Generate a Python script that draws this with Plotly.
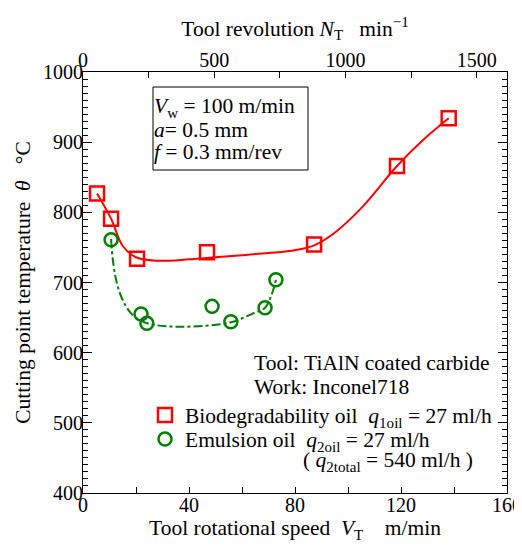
import plotly.graph_objects as go

# ---- data ----
bio_v = [5.3, 10.6, 20.4, 46.8, 87.2, 118.5, 138.0]
bio_t = [827, 791, 734, 743, 754, 866, 934]
emu_v = [10.6, 21.9, 24.1, 48.7, 55.8, 68.7, 72.8]
emu_t = [761, 655, 642, 666, 644, 664, 704]
bio_fit_v = [5.3, 10.6, 15, 20, 28, 40, 50, 60, 70, 80, 87.2, 95, 105, 118.5, 128, 138.0]
bio_fit_t = [827, 791, 752, 736, 731, 733, 736, 739, 742, 746, 753, 771, 806, 866, 902, 934]
emu_fit_v = [10.6, 11.3, 12.8, 15.1, 18.9, 24.2, 36.6, 55.5, 64.2, 68.7, 71.3, 72.8]
emu_fit_t = [762, 731, 699, 674, 653, 642, 637, 643, 656, 664, 684, 704]

x_ticks = [0, 40, 80, 120, 160]
y_ticks = [400, 500, 600, 700, 800, 900, 1000]
top_ticks = [0, 500, 1000, 1500]

FONT = "Liberation Serif"
RED = "#ff0000"
GREEN = "#008000"
TXT = 21.5
TICK = 20

# page has an 8px body margin; figure is drawn at offset (8, 8)
OFF = 8
W, H = 522 - OFF, 551 - 2 * OFF
# plot area in page pixels
L, R, T, B = 83, 507, 72, 493
def px(x): return (x - L) / (R - L)
def py(y): return (B - y) / (B - T)

fig = go.Figure()
fig.add_trace(go.Scatter(x=bio_fit_v, y=bio_fit_t, mode="lines", line=dict(color=RED, width=2, shape="spline"),
                         showlegend=False, hoverinfo="skip"))
fig.add_trace(go.Scatter(x=emu_fit_v, y=emu_fit_t, mode="lines",
                         line=dict(color=GREEN, width=2, shape="spline", dash="dashdot"),
                         showlegend=False, hoverinfo="skip"))
fig.add_trace(go.Scatter(x=bio_v, y=bio_t, mode="markers",
                         marker=dict(symbol="square-open", size=14, color=RED, line=dict(width=2.5, color=RED)),
                         name="Biodegradability oil\u00a0\u00a0<i>q</i><sub>1oil</sub> = 27 ml/h", legend="legend"))
fig.add_trace(go.Scatter(x=emu_v, y=emu_t, mode="markers",
                         marker=dict(symbol="circle-open", size=13, color=GREEN, line=dict(width=2.5, color=GREEN)),
                         name="Emulsion oil\u00a0\u00a0<i>q</i><sub>2oil</sub> = 27 ml/h", legend="legend2"))
fig.add_trace(go.Scatter(x=[], y=[], xaxis="x2", showlegend=False))

axis_common = dict(showline=True, linecolor="black", linewidth=1, ticks="inside", tickcolor="black",
                   showgrid=False, zeroline=False, automargin=False, ticklabeloverflow="allow",
                   tickfont=dict(family=FONT, size=TICK, color="black"))

leg_common = dict(xanchor="left", yanchor="middle", bgcolor="rgba(0,0,0,0)",
                  font=dict(family=FONT, size=TXT, color="black"), itemwidth=30)

fig.update_layout(
    width=W, height=H,
    margin=dict(l=L - OFF, r=OFF + W - R, t=T - OFF, b=OFF + H - B),
    paper_bgcolor="white", plot_bgcolor="white",
    font=dict(family=FONT, size=TXT, color="black"),
    xaxis=dict(range=[0, 160], tickvals=x_ticks, ticklen=6, ticklabelstandoff=-6,
               minor=dict(dtick=20, tick0=0, ticks="inside", ticklen=6, tickcolor="black"),
               title=dict(text="Tool rotational speed\u00a0\u00a0<i>V</i><sub>T</sub>\u00a0\u00a0\u00a0\u00a0m/min",
                          font=dict(family=FONT, size=TXT), standoff=8),
               **axis_common),
    xaxis2=dict(range=[0, 1615], overlaying="x", side="top", tickvals=top_ticks, ticklen=6,
                ticklabelstandoff=-4,
                minor=dict(dtick=250, tick0=0, ticks="inside", ticklen=6, tickcolor="black"),
                title=dict(text="Tool revolution <i>N</i><sub>T</sub>\u00a0\u00a0\u00a0min<sup>\u22121</sup>",
                           font=dict(family=FONT, size=TXT), standoff=6),
                **axis_common),
    yaxis=dict(range=[400, 1000], tickvals=y_ticks, ticklen=9, mirror="ticks", ticklabelstandoff=-5,
               minor=dict(dtick=10, tick0=400, ticks="inside", ticklen=5, tickcolor="black"),
               title=dict(text="Cutting point temperature\u00a0\u00a0<i>\u03b8</i>\u00a0\u00a0\u00a0\u00b0C",
                          font=dict(family=FONT, size=TXT), standoff=6),
               **axis_common),
    legend=dict(x=px(145), y=py(415), **leg_common),
    legend2=dict(x=px(145), y=py(439), **leg_common),
    showlegend=True,
)

fig.add_shape(type="rect", xref="paper", yref="paper",
              x0=px(153), x1=px(308), y0=py(170), y1=py(87),
              line=dict(color="black", width=1), fillcolor="rgba(0,0,0,0)")

def ann(text, x, y):
    fig.add_annotation(text=text, xref="paper", yref="paper", x=px(x), y=py(y),
                       xanchor="left", yanchor="middle", showarrow=False,
                       font=dict(family=FONT, size=TXT, color="black"))

ann("<i>V</i><sub>w</sub> = 100 m/min", 152, 108)
ann("<i>a</i>= 0.5 mm", 152, 130)
ann("<i>f</i> = 0.3 mm/rev", 152, 152)
ann("Tool: TiAlN coated carbide", 252, 363)
ann("Work: Inconel718", 252, 387)
ann("( <i>q</i><sub>2total</sub> = 540 ml/h )", 301, 461)

fig.write_html("out.html")
